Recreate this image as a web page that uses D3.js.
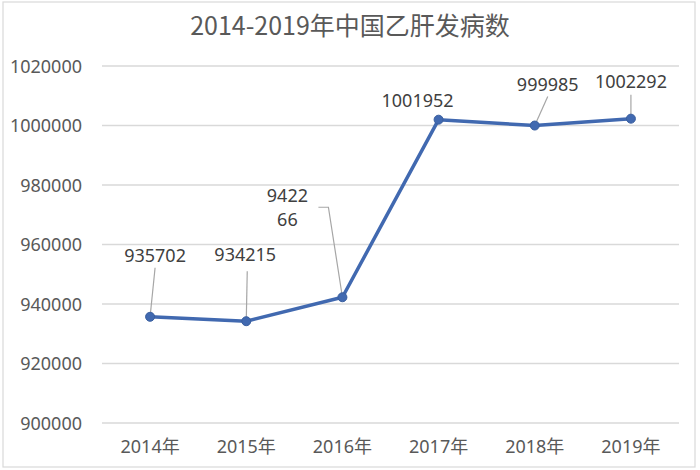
<!DOCTYPE html>
<html>
<head>
<meta charset="utf-8">
<script src="https://cdn.jsdelivr.net/npm/d3@7"></script>
<style>
  body { margin: 0; background: #fff; }
  text { font-family: "Noto Sans", "Noto Sans CJK SC", sans-serif; }
</style>
</head>
<body>
<svg id="chart" width="700" height="470" viewBox="0 0 700 470"></svg>
<script>
// chart data
const years = ["2014年", "2015年", "2016年", "2017年", "2018年", "2019年"];
const cases = [935702, 934215, 942266, 1001952, 999985, 1002292];
const yTicks = [900000, 920000, 940000, 960000, 980000, 1000000, 1020000];
const titleText = "2014-2019年中国乙肝发病数";

// label placement relative to each point (centre x, first baseline y)
const labelOffsets = [
  { dx: 5, dy: -55, lines: ["935702"], leader: [[5, -49]] },
  { dx: -1, dy: -60, lines: ["934215"], leader: [[1, -50]] },
  { dx: -55, dy: -95, lines: ["9422", "66"], leader: [[-24, -90], [-14, -90]] },
  { dx: -21, dy: -13, lines: ["1001952"], leader: null },
  { dx: 13, dy: -35, lines: ["999985"], leader: [[13, -29]] },
  { dx: 0, dy: -31, lines: ["1002292"], leader: [[0, -24]] }
];

const svg = d3.select("#chart");
const margin = { left: 102, right: 21, top: 66, bottom: 47 };
const width = 700, height = 470;

// outer chart frame
svg.append("rect")
  .attr("x", 3).attr("y", 2)
  .attr("width", 692).attr("height", 465)
  .attr("fill", "#fff")
  .attr("stroke", "#d9d9d9")
  .attr("stroke-width", 1.2);

const x = d3.scaleBand()
  .domain(years)
  .range([margin.left, width - margin.right])
  .padding(0);

const y = d3.scaleLinear()
  .domain([900000, 1020000])
  .range([height - margin.bottom, margin.top]);

// gridlines
svg.append("g")
  .selectAll("line")
  .data(yTicks)
  .enter()
  .append("line")
  .attr("x1", margin.left)
  .attr("x2", width - margin.right)
  .attr("y1", (d) => y(d))
  .attr("y2", (d) => y(d))
  .attr("stroke", "#d9d9d9")
  .attr("stroke-width", 1.3);

// y axis labels
const yAxis = d3.axisLeft(y).tickValues(yTicks).tickSize(0).tickPadding(20)
  .tickFormat(d3.format("d"));
const yAxisG = svg.append("g")
  .attr("transform", `translate(${margin.left},0)`)
  .call(yAxis);
yAxisG.select(".domain").remove();
yAxisG.selectAll("text")
  .attr("fill", "#595959")
  .attr("font-size", 18)
  .attr("dy", "0.34em");

// x axis labels
const xAxis = d3.axisBottom(x).tickSize(0).tickPadding(17);
const xAxisG = svg.append("g")
  .attr("transform", `translate(0,${height - margin.bottom})`)
  .call(xAxis);
xAxisG.select(".domain").remove();
xAxisG.selectAll("text")
  .attr("fill", "#595959")
  .attr("font-size", 18);

// title
svg.append("text")
  .attr("x", 350)
  .attr("y", 35)
  .attr("text-anchor", "middle")
  .attr("fill", "#595959")
  .attr("font-size", 25)
  .style("font-family", '"Noto Sans CJK SC", sans-serif')
  .text(titleText);

const points = years.map((yr, i) => ({
  year: yr,
  value: cases[i],
  px: x(yr) + x.bandwidth() / 2,
  py: y(cases[i]),
  label: labelOffsets[i]
}));

// leader lines
svg.append("g")
  .selectAll("path")
  .data(points.filter((p) => p.label.leader))
  .enter()
  .append("path")
  .attr("d", (p) => {
    const pts = p.label.leader.map((o) => [p.px + o[0], p.py + o[1]]);
    pts.push([p.px, p.py]);
    return d3.line()(pts);
  })
  .attr("fill", "none")
  .attr("stroke", "#a6a6a6")
  .attr("stroke-width", 1.2);

// series line
const lineColor = "#4169b0";
svg.append("path")
  .datum(points)
  .attr("d", d3.line().x((p) => p.px).y((p) => p.py))
  .attr("fill", "none")
  .attr("stroke", lineColor)
  .attr("stroke-width", 3.5)
  .attr("stroke-linejoin", "round");

// markers
svg.append("g")
  .selectAll("circle")
  .data(points)
  .enter()
  .append("circle")
  .attr("cx", (p) => p.px)
  .attr("cy", (p) => p.py)
  .attr("r", 4.5)
  .attr("fill", lineColor)
  .attr("stroke", "#3a5f9f")
  .attr("stroke-width", 1);

// data labels
const labelG = svg.append("g");
points.forEach((p) => {
  const t = labelG.append("text")
    .attr("text-anchor", "middle")
    .attr("fill", "#404040")
    .attr("font-size", 18);
  p.label.lines.forEach((ln, k) => {
    t.append("tspan")
      .attr("x", p.px + p.label.dx)
      .attr("y", p.py + p.label.dy + k * 24)
      .text(ln);
  });
});
</script>
</body>
</html>
